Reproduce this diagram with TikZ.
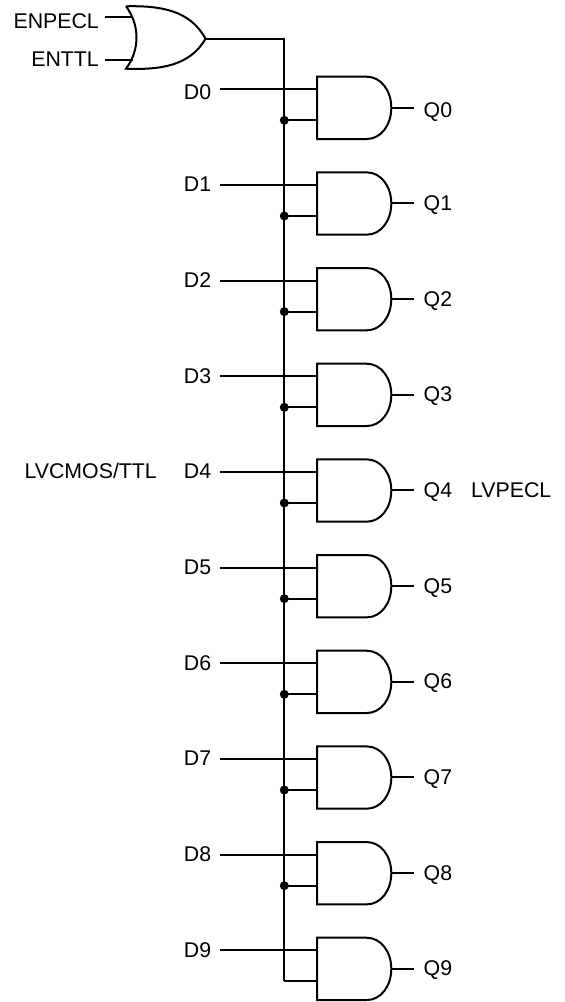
\documentclass[tikz,border=0pt]{standalone}
\usepackage{fontspec}
\setmainfont{Liberation Sans}
\begin{document}
\begin{tikzpicture}[x=1pt,y=-1pt,line join=miter,
  wire/.style={line width=2pt},
  gateline/.style={line width=2pt},
  lbl/.style={inner sep=0pt,font=\fontsize{21.3}{25}\selectfont,text depth=0pt,anchor=base west},
  rlbl/.style={inner sep=0pt,font=\fontsize{21.3}{25}\selectfont,text depth=0pt,anchor=base east},
  jdot/.style={circle,fill=black,inner sep=0pt,minimum size=9pt}]
\useasboundingbox (0,0) rectangle (565,1002);
% OR gate
\draw[gateline] (126,6.3) .. controls (160,5.5) and (190,10) .. (205.5,38.7)
  .. controls (190,66) and (160,70) .. (126,68.7)
  .. controls (140,50) and (140,25) .. (126,6.3);
\coordinate (orout) at (205.5,38.7);
\coordinate (orA) at (132.5,17.3);
\coordinate (orB) at (132.5,60);
\coordinate (busTop) at (284.3,38.7);
\coordinate (busEnd) at (284.3,981.3);
\coordinate (enA) at (105,17.3);
\coordinate (enB) at (105,60);
\draw[wire] (enA) -- (orA);
\draw[wire] (enB) -- (orB);
\draw[wire] (orout) -- (busTop) -- (busEnd);
\node[rlbl] (lenpecl) at (99,28.8) {ENPECL};
\node[rlbl] (lenttl) at (99,66.7) {ENTTL};
\foreach \k/\dy/\qy in {0/92.3/110,1/184.4/203.3,2/280.1/299,3/375.8/394.7,4/471.3/490.3,5/567/586,6/662.7/681.6,7/758.3/777.3,8/854/873,9/949.7/968.6}{
  \pgfmathsetmacro{\yt}{89.3+95.67*\k}
  \pgfmathsetmacro{\ytop}{\yt-12.6}
  \pgfmathsetmacro{\ylow}{\yt+31}
  \pgfmathsetmacro{\ybot}{\yt+49.7}
  \pgfmathsetmacro{\ymid}{\yt+18.4}
  \coordinate (d\k) at (220,\yt);
  \coordinate (a\k) at (317,\yt);
  \coordinate (b\k) at (317,\ylow);
  \coordinate (j\k) at (284.3,\ylow);
  \coordinate (o\k) at (391.3,\ymid);
  \coordinate (q\k) at (414.3,\ymid);
  \draw[gateline] (317,\ytop) -- (366.7,\ytop)
    .. controls (381,\ytop) and (391.3,\ytop+14) .. (391.3,\ymid)
    .. controls (391.3,\ybot-14) and (381,\ybot) .. (366.7,\ybot)
    -- (317,\ybot) -- cycle;
  \draw[wire] (d\k) -- (a\k);
  \draw[wire] (o\k) -- (q\k);
  \draw[wire] (j\k) -- (b\k);
  \node[rlbl] (ld\k) at (211.3,\dy+7.4) {D\k};
  \node[lbl] (lq\k) at (423.5,\qy+7.2) {Q\k};
}
\foreach \k in {0,...,8}{ \node[jdot] (dot\k) at (j\k) {}; }
\node[rlbl] (lcmos) at (157,478.7) {LVCMOS/TTL};
\node[lbl] (lpecl) at (471,497.4) {LVPECL};
\end{tikzpicture}
\end{document}
